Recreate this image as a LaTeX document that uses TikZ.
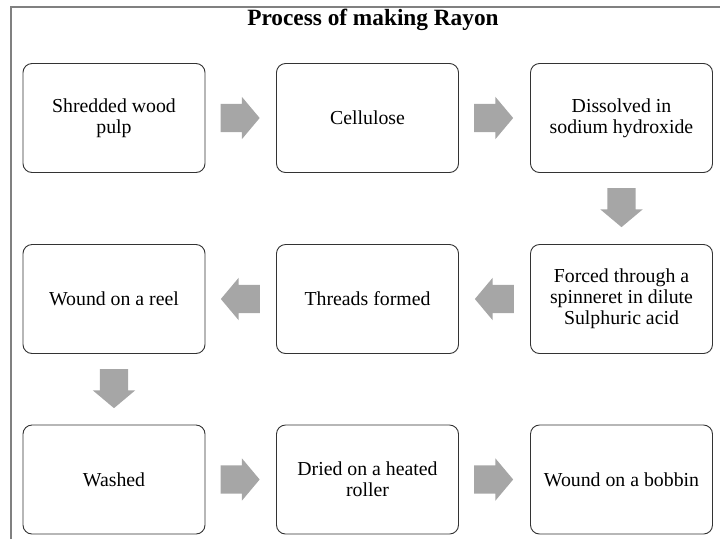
\documentclass[tikz,border=0pt]{standalone}
\usepackage{fontspec}
\setmainfont{Liberation Serif}
\usetikzlibrary{shapes.arrows,calc}

\tikzset{etape/.style = {rectangle, rounded corners=9pt, draw=black!80, line width=0.9pt,
                         minimum width=182pt, minimum height=109pt, inner sep=2pt,
                         align=center, font=\fontsize{19.8}{21}\selectfont},
         fleche/.style = {single arrow, fill=black!35, draw=none, inner sep=0pt,
                          text width=0pt, text height=14pt, text depth=14pt,
                          minimum height=39pt, minimum width=42pt,
                          single arrow head extend=7pt, single arrow tip angle=100,
                          single arrow head indent=0pt, rotate=#1, anchor=tail},
         fleche/.default=0
        }

\begin{document}
\begin{tikzpicture}[x=1pt,y=-1pt]
\useasboundingbox (0,0) rectangle (720,539);
\draw[black!50, line width=1.5pt] (11,539) -- (11,7) -- (720,7);
\node[anchor=base, font=\fontsize{23.3}{26}\selectfont\bfseries] at (373,25) (titre) {Process of making Rayon};
% ligne 1
\node[etape] at (114,118) (pulpe) {Shredded wood\\pulp};
\node[etape] at (367.5,118) (cellulose) {Cellulose};
\node[etape] at (621.5,118) (soude) {Dissolved in\\sodium hydroxide};
% ligne 2
\node[etape] at (621.5,299) (filiere) {Forced through a\\spinneret in dilute\\Sulphuric acid};
\node[etape] at (367.5,299) (fils) {Threads formed};
\node[etape] at (114,299) (bobine) {Wound on a reel};
% ligne 3
\node[etape] at (114,479.5) (lavage) {Washed};
\node[etape] at (367.5,479.5) (sechage) {Dried on a heated\\roller};
\node[etape] at (621.5,479.5) (canette) {Wound on a bobbin};
% fleches
\node[fleche] at ($(pulpe.east)!15pt!(cellulose.west)$) (f1) {};
\node[fleche] at ($(cellulose.east)!15pt!(soude.west)$) (f2) {};
\node[fleche=270] at ($(soude.south)!15pt!(filiere.north)$) (f3) {};
\node[fleche=180] at ($(filiere.west)!16pt!(fils.east)$) (f4) {};
\node[fleche=180] at ($(fils.west)!16pt!(bobine.east)$) (f5) {};
\node[fleche=270] at ($(bobine.south)!15pt!(lavage.north)$) (f6) {};
\node[fleche] at ($(lavage.east)!15pt!(sechage.west)$) (f7) {};
\node[fleche] at ($(sechage.east)!15pt!(canette.west)$) (f8) {};
\end{tikzpicture}
\end{document}
